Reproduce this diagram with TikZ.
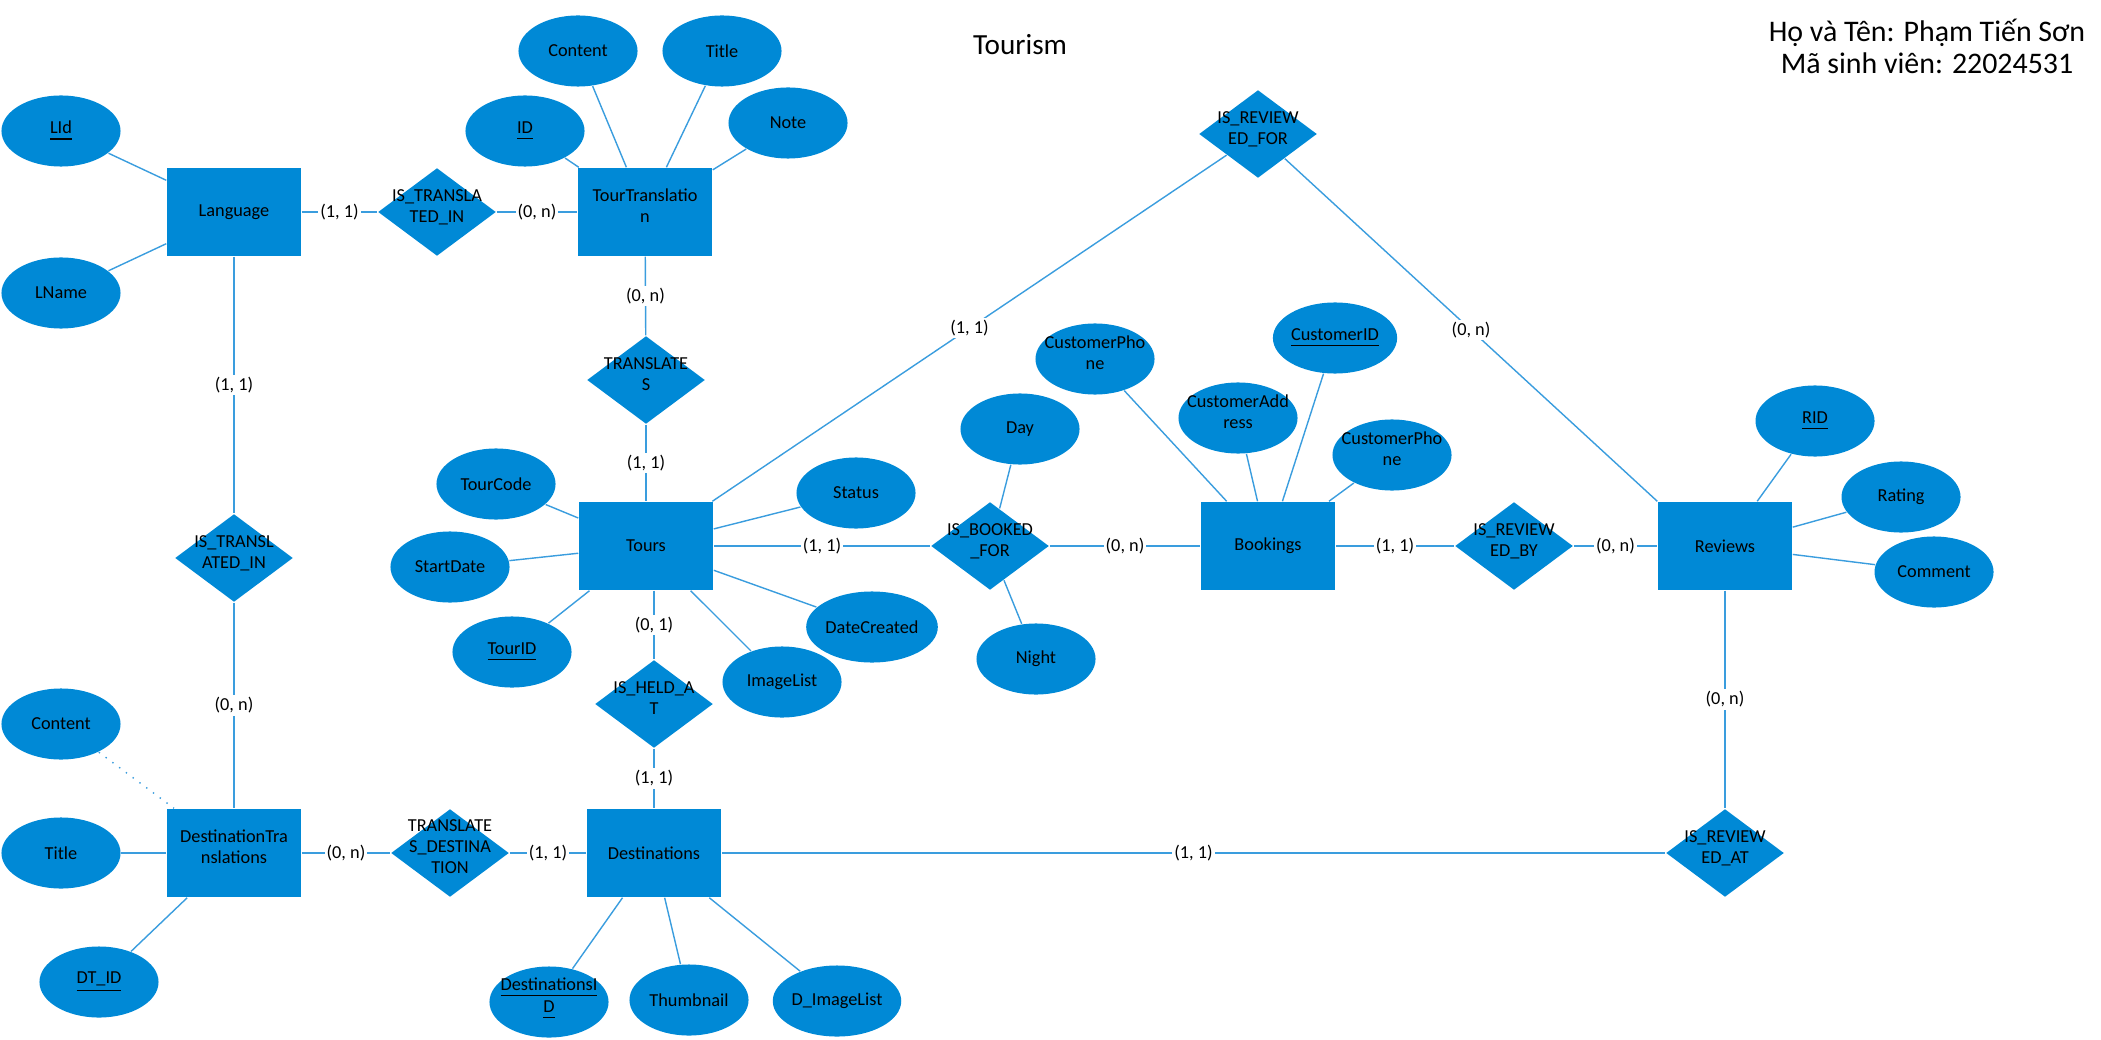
\documentclass[tikz,border=0pt]{standalone}
\usepackage{fontspec}
\setmainfont{Carlito}
\usepackage{tikz}
\usetikzlibrary{shapes.geometric}
\definecolor{erblue}{RGB}{0,137,214}
\definecolor{erline}{RGB}{58,157,222}
\newcommand{\ztxt}[1]{\raisebox{0pt}[0pt][0pt]{\makebox[0pt]{\begin{tabular}{@{}c@{}}#1\end{tabular}}}}

\tikzset{
ent/.style={rectangle, fill=erblue, minimum width=1.34cm, minimum height=0.88cm, inner sep=0pt},
rel/.style={diamond, fill=erblue, minimum width=1.18cm, minimum height=0.88cm, inner sep=0pt},
att/.style={ellipse, fill=erblue, minimum width=1.19cm, minimum height=0.71cm, inner sep=0pt},
card/.style={fill=white, text=black, inner sep=0.6pt},
ln/.style={erline, line width=0.4pt}
}

\begin{document}
\begin{tikzpicture}[x=0.01cm, y=-0.01cm, font=\fontsize{5.2}{6}\selectfont]
\useasboundingbox (0,0) rectangle (2101,1040);

\node[font=\fontsize{8.3}{10}\selectfont] (title) at (1020,45) {Tourism};
\node[align=center, font=\fontsize{8.5}{9.1}\selectfont] (author) at (1927,46) {Họ và Tên: Phạm Tiến Sơn\\Mã sinh viên: 22024531};

% entities
\node[ent] (lang) at (234,212) {Language};
\node[ent] (ttrans) at (645,212) {\ztxt{TourTranslatio\\n}};
\node[ent] (tours) at (646,546) {Tours};
\node[ent] (book) at (1268,546) {Bookings};
\node[ent] (rev) at (1725,546) {Reviews};
\node[ent] (dtrans) at (234,853) {\ztxt{DestinationTra\\nslations}};
\node[ent] (dest) at (654,853) {Destinations};

% relationships
\node[rel] (transin) at (437,212) {\ztxt{IS\_TRANSLA\\TED\_IN}};
\node[rel] (transl) at (646,380) {\ztxt{TRANSLATE\\S}};
\node[rel] (transin2) at (234,558) {\ztxt{IS\_TRANSL\\ATED\_IN}};
\node[rel] (revfor) at (1258,134) {\ztxt{IS\_REVIEW\\ED\_FOR}};
\node[rel] (bookfor) at (990,546) {\ztxt{IS\_BOOKED\\\_FOR}};
\node[rel] (heldat) at (654,704) {\ztxt{IS\_HELD\_A\\T}};
\node[rel] (transdest) at (450,853) {\ztxt{TRANSLATE\\S\_DESTINA\\TION}};
\node[rel] (revby) at (1514,546) {\ztxt{IS\_REVIEW\\ED\_BY}};
\node[rel] (revat) at (1725,853) {\ztxt{IS\_REVIEW\\ED\_AT}};

% attributes
\node[att] (lid) at (61,131) {\underline{LId}};
\node[att] (lname) at (61,293) {LName};
\node[att] (tid) at (525,131) {\underline{ID}};
\node[att] (tcontent) at (578,51) {Content};
\node[att] (ttitle) at (722,51) {Title};
\node[att] (tnote) at (788,123) {Note};
\node[att] (tcode) at (496,484) {TourCode};
\node[att] (sdate) at (450,567) {StartDate};
\node[att] (tourid) at (512,652) {\underline{TourID}};
\node[att] (status) at (856,493) {Status};
\node[att] (dcreated) at (872,627) {DateCreated};
\node[att] (imglist) at (782,682) {ImageList};
\node[att] (day) at (1020,429) {Day};
\node[att] (night) at (1036,659) {Night};
\node[att] (cphone) at (1095,359) {\ztxt{CustomerPho\\ne}};
\node[att] (caddr) at (1238,418) {\ztxt{CustomerAdd\\ress}};
\node[att] (cid) at (1335,338) {\underline{CustomerID}};
\node[att] (cphone2) at (1392,455) {\ztxt{CustomerPho\\ne}};
\node[att] (rid) at (1815,421) {\underline{RID}};
\node[att] (rating) at (1901,497) {Rating};
\node[att] (comment) at (1934,572) {Comment};
\node[att] (dcontent) at (61,724) {Content};
\node[att] (dtitle) at (61,853) {Title};
\node[att] (dtid) at (99,982) {\underline{DT\_ID}};
\node[att] (did) at (549,1002) {\ztxt{\underline{DestinationsI}\\\underline{D}}};
\node[att] (thumb) at (689,1000) {Thumbnail};
\node[att] (dimg) at (837,1001) {D\_ImageList};

\draw[ln] (lid) -- (lang);
\draw[ln] (lname) -- (lang);
\draw[ln] (tid) -- (ttrans);
\draw[ln] (tcontent) -- (ttrans);
\draw[ln] (ttitle) -- (ttrans);
\draw[ln] (tnote) -- (ttrans);
\draw[ln] (tcode) -- (tours);
\draw[ln] (sdate) -- (tours);
\draw[ln] (tourid) -- (tours);
\draw[ln] (status) -- (tours);
\draw[ln] (dcreated) -- (tours);
\draw[ln] (imglist) -- (tours);
\draw[ln] (day) -- (bookfor);
\draw[ln] (night) -- (bookfor);
\draw[ln] (cphone) -- (book);
\draw[ln] (caddr) -- (book);
\draw[ln] (cid) -- (book);
\draw[ln] (cphone2) -- (book);
\draw[ln] (rid) -- (rev);
\draw[ln] (rating) -- (rev);
\draw[ln] (comment) -- (rev);
\draw[ln, dotted] (dcontent) -- (dtrans);
\draw[ln] (dtitle) -- (dtrans);
\draw[ln] (dtid) -- (dtrans);
\draw[ln] (did) -- (dest);
\draw[ln] (thumb) -- (dest);
\draw[ln] (dimg) -- (dest);

% cardinalities
\draw[ln] (lang) -- node[card] {(1, 1)} (transin);
\draw[ln] (transin) -- node[card] {(0, n)} (ttrans);
\draw[ln] (ttrans) -- node[card] {(0, n)} (transl);
\draw[ln] (transl) -- node[card] {(1, 1)} (tours);
\draw[ln] (lang) -- node[card] {(1, 1)} (transin2);
\draw[ln] (transin2) -- node[card] {(0, n)} (dtrans);
\draw[ln] (tours) -- node[card] {(1, 1)} (revfor);
\draw[ln] (revfor) -- node[card] {(0, n)} (rev.north west);
\draw[ln] (tours) -- node[card] {(1, 1)} (bookfor);
\draw[ln] (bookfor) -- node[card] {(0, n)} (book);
\draw[ln] (book) -- node[card] {(1, 1)} (revby);
\draw[ln] (revby) -- node[card] {(0, n)} (rev);
\draw[ln] (heldat |- tours.south) -- node[card] {(0, 1)} (heldat);
\draw[ln] (heldat) -- node[card] {(1, 1)} (dest);
\draw[ln] (dtrans) -- node[card] {(0, n)} (transdest);
\draw[ln] (transdest) -- node[card] {(1, 1)} (dest);
\draw[ln] (dest) -- node[card] {(1, 1)} (revat);
\draw[ln] (rev) -- node[card] {(0, n)} (revat);

\end{tikzpicture}
\end{document}
